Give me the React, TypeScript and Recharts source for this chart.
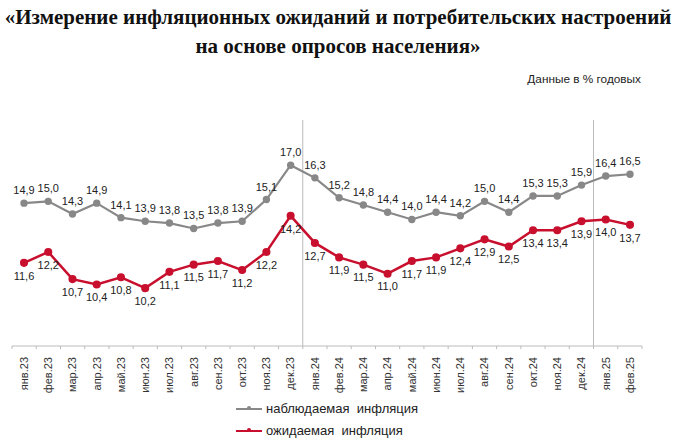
import React from 'react';
import { LineChart, Line, XAxis, YAxis, ReferenceLine, LabelList } from 'recharts';

const months = ['янв.23','фев.23','мар.23','апр.23','май.23','июн.23','июл.23','авг.23','сен.23','окт.23','ноя.23','дек.23','янв.24','фев.24','мар.24','апр.24','май.24','июн.24','июл.24','авг.24','сен.24','окт.24','ноя.24','дек.24','янв.25','фев.25'];
const observed = [14.9,15.0,14.3,14.9,14.1,13.9,13.8,13.5,13.8,13.9,15.1,17.0,16.3,15.2,14.8,14.4,14.0,14.4,14.2,15.0,14.4,15.3,15.3,15.9,16.4,16.5];
const expected = [11.6,12.2,10.7,10.4,10.8,10.2,11.1,11.5,11.7,11.2,12.2,14.2,12.7,11.9,11.5,11.0,11.7,11.9,12.4,12.9,12.5,13.4,13.4,13.9,14.0,13.7];
const yearBreaks = [11.5, 23.5];
const boundaryTicks = Array.from({ length: months.length + 1 }, (_, i) => i - 0.5);
const seriesNames = ['наблюдаемая  инфляция', 'ожидаемая  инфляция'];
const Y_MIN = 7;
const Y_MAX = 19.5;
const TICK_LEN = 0.17;

const data = months.map((m, i) => ({ m, obs: observed[i], exp: expected[i] }));

const GRAY = '#888888';
const RED = '#c8102e';
const AXIS = '#bbbbbb';
const fmt = (v: any) => Number(v).toFixed(1).replace('.', ',');

const MonthTick = (props: any) => {
  const { x, y, payload } = props;
  return (
    <text x={x} y={y} transform={`rotate(-90, ${x}, ${y})`} textAnchor="end" dy="0.35em"
      fontSize={11} fill="#333" fontFamily="'Liberation Sans', Arial, sans-serif">
      {payload.value}
    </text>
  );
};

export default function App() {
  return (
    <div style={{ position: 'absolute', left: 0, top: 0, width: 676, height: 445, background: '#fff' }}>
      <div style={{ position: 'absolute', left: 0, top: 3, width: 676, textAlign: 'center',
        fontFamily: "'Liberation Serif', 'Times New Roman', serif", fontWeight: 'bold', fontSize: 21, lineHeight: '29px', color: '#111' }}>
        «Измерение инфляционных ожиданий и потребительских настроений<br />на основе опросов населения»
      </div>
      <div style={{ position: 'absolute', right: 35, top: 72, fontFamily: "'Liberation Sans', Arial, sans-serif", fontSize: 11.8, color: '#222' }}>
        Данные в % годовых
      </div>
      <div style={{ position: 'absolute', left: 0, top: 0 }}>
        <LineChart width={676} height={445} data={data} margin={{ top: 120, right: 34, bottom: 39, left: 12 }}>
          <XAxis xAxisId="n" type="number" dataKey={() => 0} domain={[-0.5, months.length - 0.5]} hide allowDataOverflow />
          <XAxis xAxisId="c" dataKey="m" interval={0} tick={<MonthTick />} tickLine={false} axisLine={false}
            height={60} tickMargin={5} padding={{ left: 12, right: 12 }} />
          <YAxis hide domain={[Y_MIN, Y_MAX]} allowDataOverflow />
          {yearBreaks.map((b) => (
            <ReferenceLine key={b} xAxisId="n" x={b} stroke={AXIS} strokeWidth={1} />
          ))}
          <ReferenceLine xAxisId="n" y={Y_MIN} stroke={AXIS} strokeWidth={1} />
          {boundaryTicks.map((b) => (
            <ReferenceLine key={'t' + b} xAxisId="n" ifOverflow="visible" stroke={AXIS} strokeWidth={1}
              segment={[{ x: b, y: Y_MIN }, { x: b, y: Y_MIN - TICK_LEN }]} />
          ))}
          <Line xAxisId="c" type="linear" dataKey="obs" stroke={GRAY} strokeWidth={2.2}
            dot={{ r: 2.6, fill: GRAY, stroke: GRAY }} isAnimationActive={false}>
            <LabelList dataKey="obs" position="top" offset={9} formatter={fmt} fontSize={11} fill="#222"
              fontFamily="'Liberation Sans', Arial, sans-serif" />
          </Line>
          <Line xAxisId="c" type="linear" dataKey="exp" stroke={RED} strokeWidth={2.5}
            dot={{ r: 2.8, fill: RED, stroke: RED }} isAnimationActive={false}>
            <LabelList dataKey="exp" position="bottom" offset={9} formatter={fmt} fontSize={11} fill="#222"
              fontFamily="'Liberation Sans', Arial, sans-serif" />
          </Line>
        </LineChart>
      </div>
      <div style={{ position: 'absolute', left: 236, top: 398, fontFamily: "'Liberation Sans', Arial, sans-serif", fontSize: 13, color: '#222', lineHeight: '22px' }}>
        {[GRAY, RED].map((c, i) => (
          <div key={c} style={{ display: 'flex', alignItems: 'center', whiteSpace: 'pre' }}>
            <svg width={28} height={10} style={{ marginRight: 2 }}>
              <line x1={0} y1={5} x2={26} y2={5} stroke={c} strokeWidth={2} />
              <circle cx={13} cy={4} r={2} fill={c} />
            </svg>
            <span>{seriesNames[i]}</span>
          </div>
        ))}
      </div>
    </div>
  );
}
